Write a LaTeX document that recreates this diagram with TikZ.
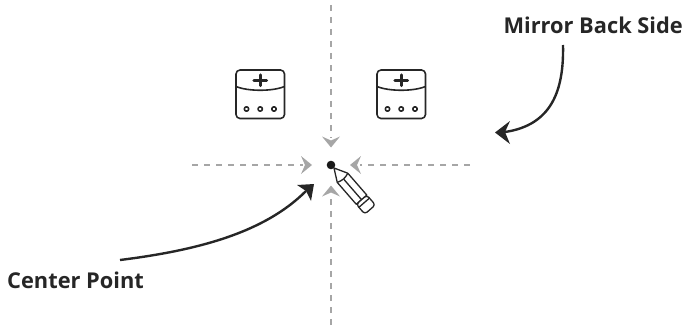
\documentclass[tikz,border=0pt]{standalone}
\usepackage{fontspec}
\setmainfont{Open Sans}
\tikzset{
  guide/.style={draw=black!35,line width=1.5pt,dash pattern=on 6pt off 6pt},
  ghead/.style={fill=black!35,draw=none},
  bighead/.style={fill=black!85,draw=none},
  curve/.style={draw=black!85,line width=2.4pt},
  ink/.style={draw=black!85,line width=1.6pt,line join=round},
  lab/.style={font=\fontsize{21.8}{26}\selectfont\bfseries,text=black!85,inner sep=0pt},
  icon/.pic={
    \draw[ink,rounded corners=4pt] (0,0) rectangle (48.5,48.5);
    \draw[ink] (0,16.5) .. controls (12,21.5) and (36.5,21.5) .. (48.5,16.5);
    \draw[black!85,line width=3.4pt,line cap=round] (24.2,5) -- (24.2,15.5);
    \draw[black!85,line width=3.4pt,line cap=round] (18,10.3) -- (30.5,10.3);
    \foreach \cx in {10.5,24.2,38} \draw[ink,line width=1.6pt] (\cx,39) circle (2.2);
  }
}
\begin{document}
\begin{tikzpicture}[x=1pt,y=-1pt]
\useasboundingbox (0,0) rectangle (687,329);
\coordinate (c) at (331,165);
% guides
\coordinate (t0) at (331,5); \coordinate (t1) at (331,138);
\coordinate (b0) at (331,325); \coordinate (b1) at (331,196);
\coordinate (l0) at (192,165); \coordinate (l1) at (303,165);
\coordinate (r0) at (470,165); \coordinate (r1) at (360,165);
\draw[guide] (t0) -- (t1);
\draw[guide] (b0) -- (b1);
\draw[guide] (l0) -- (l1);
\draw[guide] (r0) -- (r1);
% grey heads
\fill[ghead] (331,147.5) -- (322,136.5) -- (331,140.5) -- (340,136.5) -- cycle;
\fill[ghead] (331,185.5) -- (322,196.5) -- (331,192.5) -- (340,196.5) -- cycle;
\fill[ghead] (312,165) -- (301,156) -- (305,165) -- (301,174) -- cycle;
\fill[ghead] (350,165) -- (361,156) -- (357,165) -- (361,174) -- cycle;
% icons
\pic at (236,70) {icon};
\pic at (377,70) {icon};
% centre dot
\fill[black!90] (c) circle (4.3);
% pencil
\begin{scope}[shift={(334,168)},rotate=-49]
\draw[ink,fill=white,line width=1.3pt] (0,0) -- (13,-7) -- (42,-7) -- (42,7) -- (13,7) -- cycle;
\draw[ink,line width=1.3pt] (13,-7) .. controls (15,-2) and (15,2) .. (13,7);
\draw[ink,line width=1.3pt] (15,0) -- (42,0);
\draw[ink,line width=1.3pt,fill=white,rounded corners=3pt] (42,-7) -- (55,-7) -- (55,7) -- (42,7) -- cycle;
\draw[ink,line width=1.3pt] (46,-7) -- (46,7);
\end{scope}
% big arrows
\coordinate (ms) at (563,45); \coordinate (me) at (505,132);
\coordinate (cs) at (120,260); \coordinate (ce) at (306,191);
\draw[curve] (ms) .. controls (564,90) and (552,125) .. (me);
\fill[bighead] (495,132.5) -- (510,121) -- (505,132) -- (510,144) -- cycle;
\draw[curve] (cs) .. controls (200,250) and (265,232) .. (ce);
\fill[bighead] (314,184) -- (297,185) -- (306,191) -- (311,201) -- cycle;
% labels
\node[lab,anchor=base east] (mbs) at (683,33.5) {Mirror Back Side};
\node[lab,anchor=base west] (cp) at (7,288) {Center Point};
\end{tikzpicture}
\end{document}
